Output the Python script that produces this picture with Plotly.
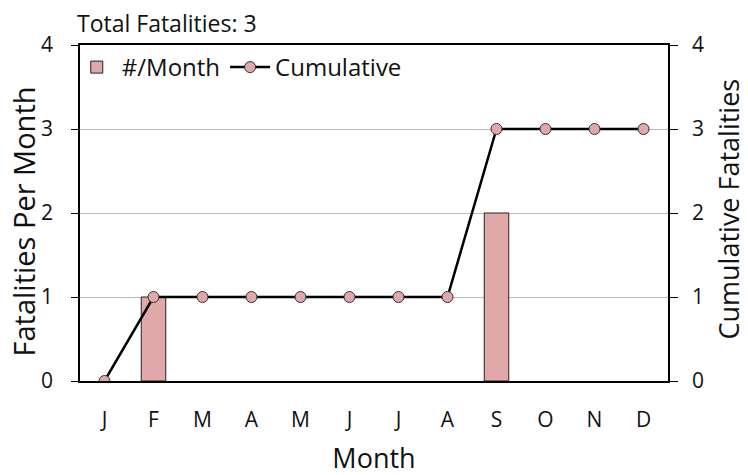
import plotly.graph_objects as go

months = ["J", "F", "M", "A", "M", "J", "J", "A", "S", "O", "N", "D"]
per_month = [0, 1, 0, 0, 0, 0, 0, 0, 2, 0, 0, 0]
cumulative = [0, 1, 1, 1, 1, 1, 1, 1, 3, 3, 3, 3]
total = 3

x_idx = list(range(len(months)))
pink = "#e0a8a8"
font = "Open Sans"

fig = go.Figure()

# zero months are left empty so no flat outline is drawn on the axis
fig.add_trace(
    go.Bar(x=x_idx, y=[v if v else None for v in per_month], name="#/Month",
           marker=dict(color=pink, line=dict(color="#222", width=1)),
           width=0.5)
)

fig.add_trace(
    go.Scatter(x=x_idx, y=cumulative, name="Cumulative", yaxis="y2",
               mode="lines+markers",
               line=dict(color="black", width=2.5),
               marker=dict(size=11, color=pink, line=dict(color="#333", width=1)))
)

fig.update_layout(
    width=748,
    height=475,
    margin=dict(l=72, r=88, t=37, b=102),
    plot_bgcolor="white",
    paper_bgcolor="white",
    font=dict(family=font, size=21, color="#111"),
    showlegend=True,
    legend=dict(orientation="h", x=-0.014, y=1.0, xanchor="left", yanchor="top",
                bgcolor="rgba(0,0,0,0)", font=dict(size=24),
                itemwidth=40, tracegroupgap=0),
    annotations=[
        dict(text=f"Total Fatalities: {total}", x=0, y=1.0,
             xref="paper", yref="paper", xanchor="left", yanchor="bottom",
             xshift=-5, yshift=4, showarrow=False, font=dict(size=23)),
        dict(text="Fatalities Per Month", textangle=-90, x=0, y=0.5,
             xref="paper", yref="paper", xanchor="left", yanchor="middle",
             xshift=-79, yshift=-9, showarrow=False, font=dict(size=29)),
        dict(text="Cumulative Fatalities", textangle=-90, x=1, y=0.5,
             xref="paper", yref="paper", xanchor="left", yanchor="middle",
             xshift=39, yshift=4, showarrow=False, font=dict(size=27)),
    ],
    xaxis=dict(tickmode="array", tickvals=x_idx, ticktext=months,
               range=[-0.5, 11.5], showline=True, linecolor="black", linewidth=1.5,
               mirror=True, ticks="", ticklen=0, showgrid=False, automargin=False,
               ticklabelstandoff=19,
               title=dict(text="Month", font=dict(size=27), standoff=17)),
    yaxis=dict(range=[0, 4], dtick=1, showline=True, linecolor="black", linewidth=1.5,
               ticks="outside", ticklen=7, tickcolor="black", automargin=False,
               ticklabelstandoff=14,
               showgrid=True, gridcolor="#bbbbbb", gridwidth=1.2, zeroline=False),
    yaxis2=dict(range=[0, 4], dtick=1, overlaying="y", side="right",
                showline=True, linecolor="black", linewidth=1.5,
                ticks="outside", ticklen=8, tickcolor="black", automargin=False,
                ticklabelstandoff=10,
                showgrid=False, zeroline=False),
)

fig.write_html("out.html")
